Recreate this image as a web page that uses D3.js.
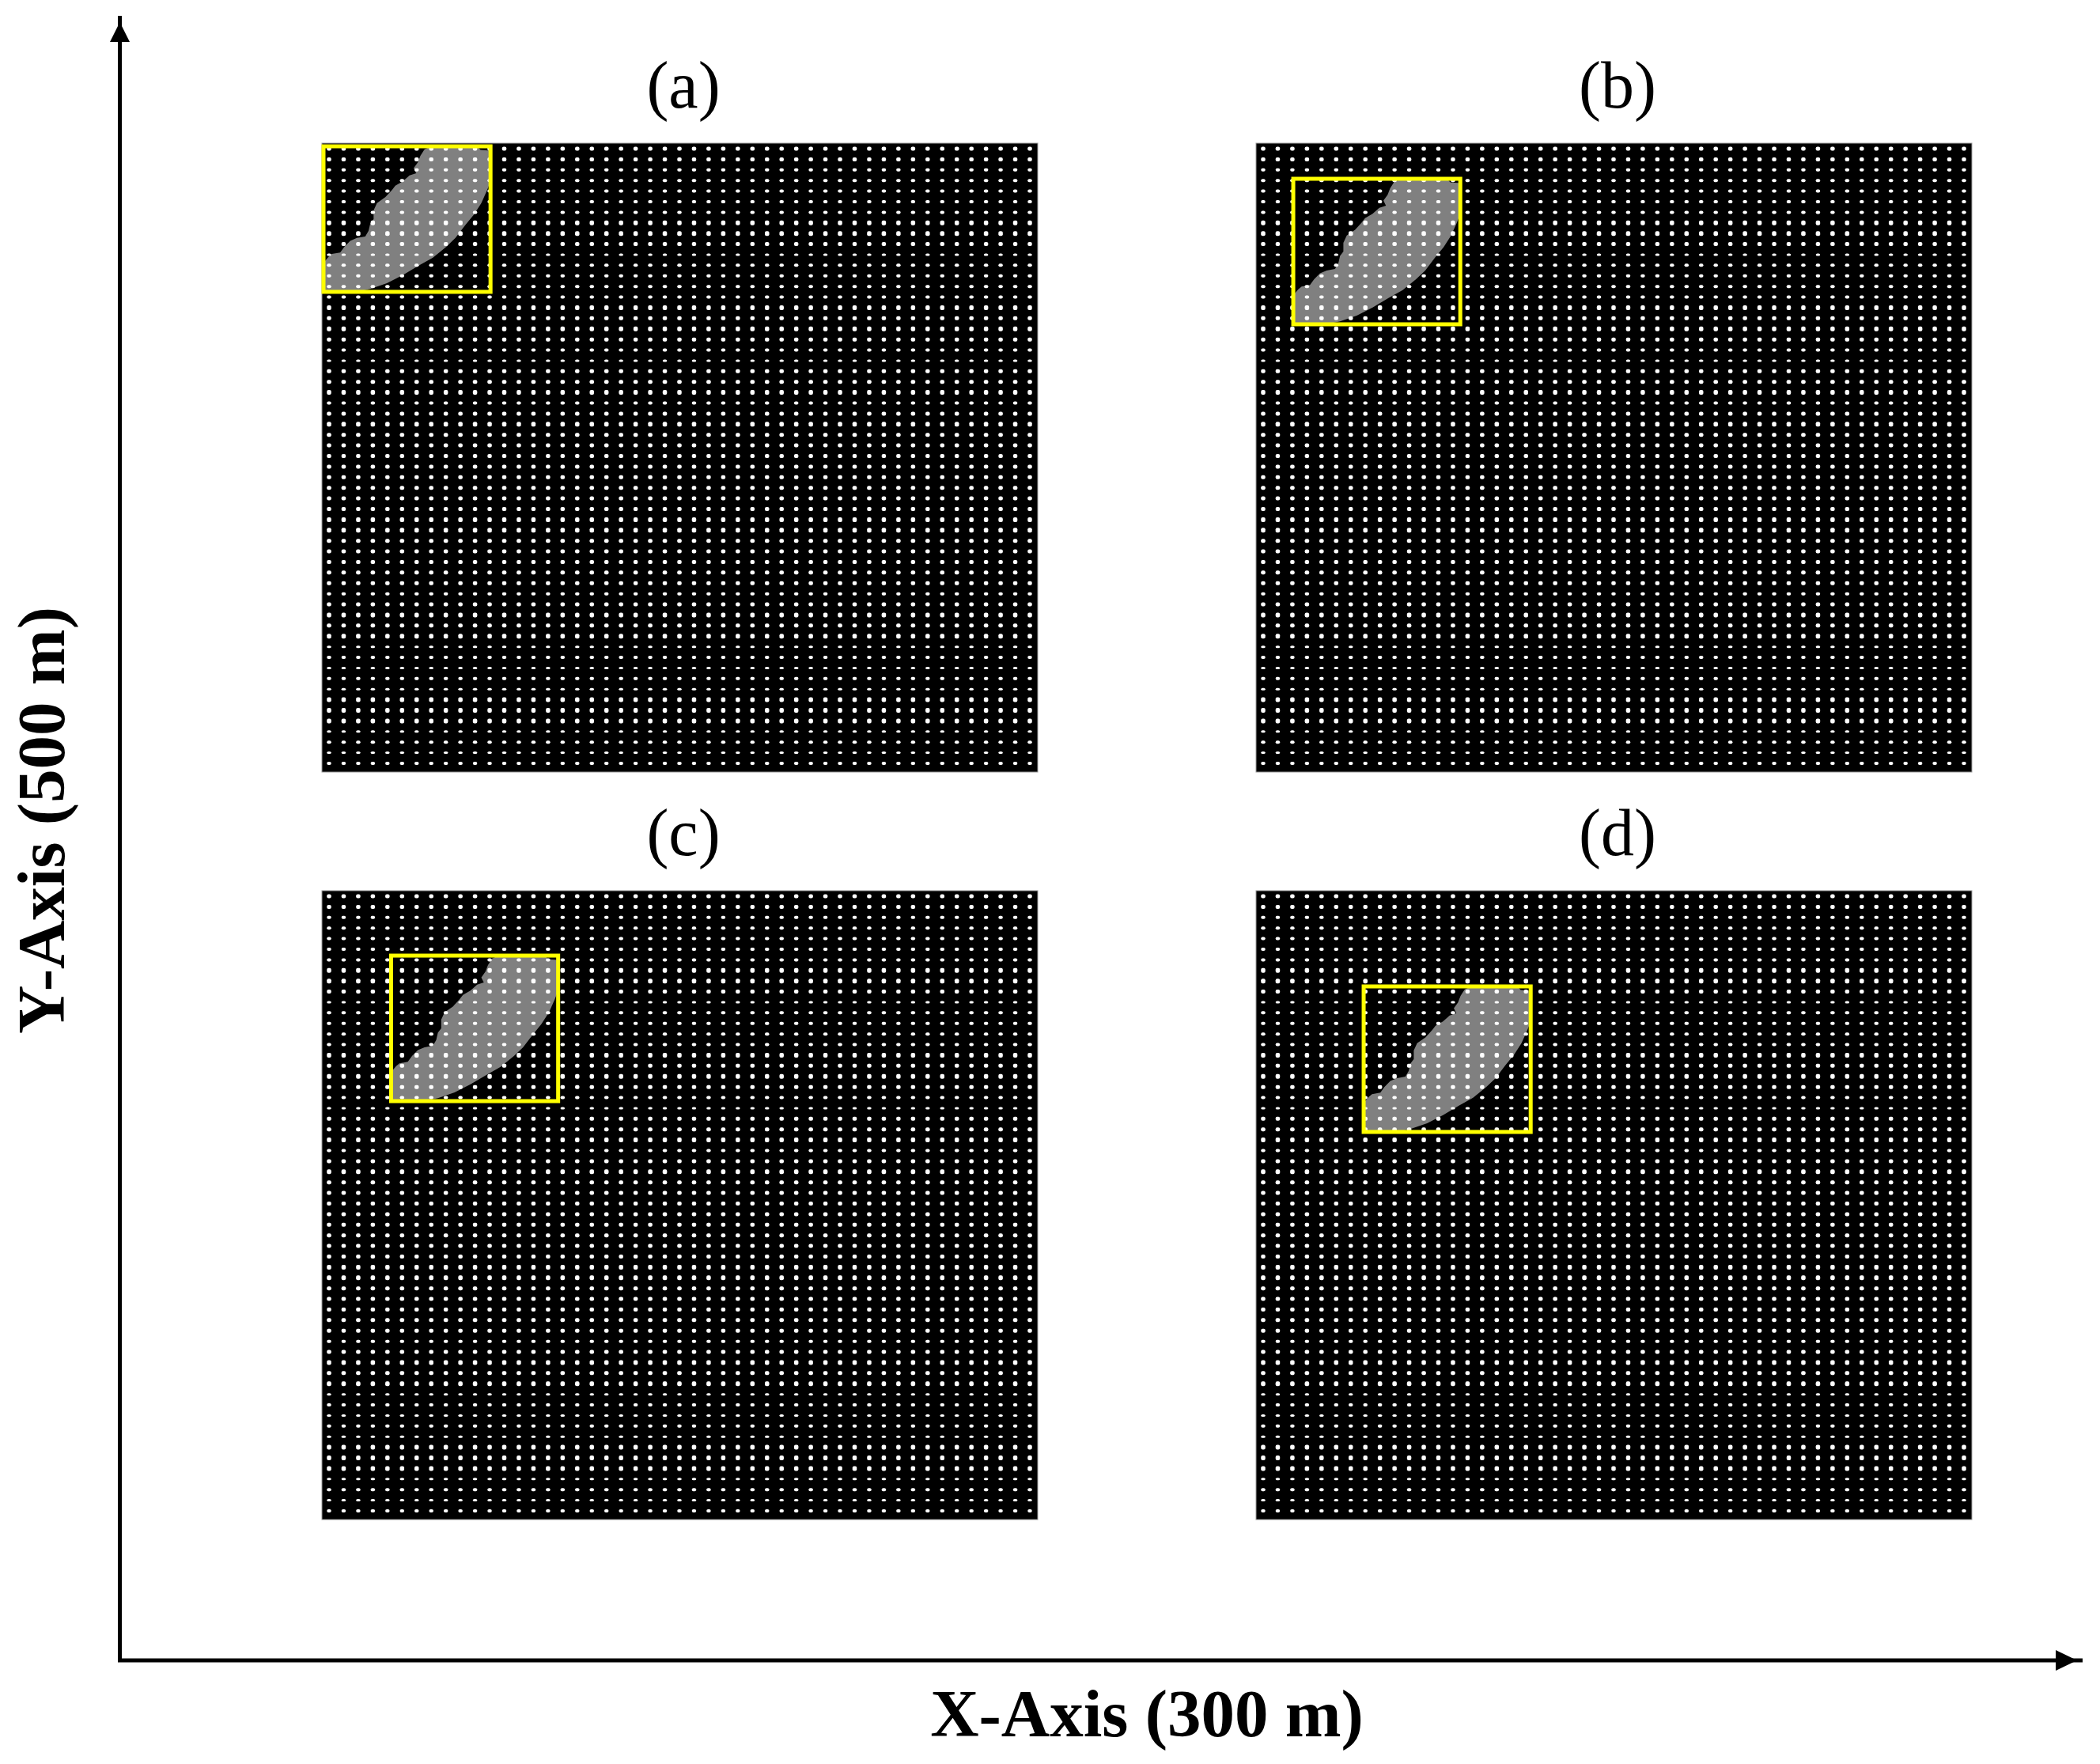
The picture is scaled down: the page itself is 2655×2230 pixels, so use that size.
<!DOCTYPE html>
<html>
<head>
<meta charset="utf-8">
<title>Detection regions</title>
<script src="https://cdn.jsdelivr.net/npm/d3@7"></script>
<style>
    body { margin: 0; background: #fff; }
    text { font-family: "Liberation Serif", serif; fill: #000; }
</style>
</head>
<body>
<div id="chart"></div>
<script>
// panels
const panelNames = ["(a)", "(b)", "(c)", "(d)"];
const panelCols = [0, 1, 0, 1];
const panelRows = [0, 0, 1, 1];

// yellow box corner in each panel, metres from the top left corner of the field
const boxLeft = [0.66, 15.6, 29.0, 45.1];
const boxTop = [2.5, 28.3, 51.6, 76.1];

// sensor grid
const gridColumns = d3.range(49);
const gridRows = d3.range(59);
// dot height of each grid row, the rows are squashed unevenly in the original
const rowDotHeights = [5, 5, 4, 4, 4, 4, 4, 6, 6, 5, 3, 4, 4, 4, 4, 6, 5, 6, 5, 4,
    3, 5, 5, 6, 4, 5, 6, 5, 5, 5,
    5, 5, 5, 5, 5, 6, 6, 5, 5, 5, 5, 5, 4, 5, 6, 5, 6, 3, 4, 3, 4, 3, 6, 6, 6, 3, 4, 3, 4];

// plume outline in percent of the yellow box
const plumeX = [0, 3, 5, 10, 12.5, 16, 20, 25, 27, 28, 30, 30, 32, 37, 41, 43, 47.5, 51.5, 55.5, 54, 56.5,
    58, 60.5, 64.5, 92, 94, 100, 100, 98, 94.5, 90, 85, 79, 73.5, 65.5, 57, 47.5, 38, 28, 20, 0];
const plumeY = [80, 76, 74, 73, 69, 65, 63, 62, 58, 53, 50, 44, 39, 35, 30, 27, 24, 20, 18.5, 15, 11,
    6.5, 2, 0, 0, 2.5, 3, 24, 30, 39, 47, 54, 63, 69, 76.5, 82, 88.5, 94, 98, 100, 100];

const fieldWidth = 300;   // metres
const fieldHeight = 500;
const boxWidth = 70;
const boxHeight = 115.7;

const width = 2655, height = 2230;
const panelWidth = 905, panelHeight = 795;
const panelX = [407, 1588], panelY = [181, 1126];

const svg = d3.select("#chart").append("svg")
    .attr("width", width)
    .attr("height", height)
    .style("display", "block");

const x = d3.scaleLinear().domain([0, fieldWidth]).range([0, panelWidth]);
const y = d3.scaleLinear().domain([0, fieldHeight]).range([0, panelHeight]);
const gridX = d3.scalePoint().domain(gridColumns).range([9, 895]);
const gridY = d3.scalePoint().domain(gridRows).range([7, 784]);

const plume = d3.range(plumeX.length);

const panels = svg.selectAll(".panel")
    .data(panelNames)
    .enter().append("g")
    .attr("class", "panel")
    .attr("transform", (d, i) => `translate(${panelX[panelCols[i]]},${panelY[panelRows[i]]})`);

panels.append("rect")
    .attr("width", panelWidth)
    .attr("height", panelHeight)
    .attr("fill", "#000")
    .attr("stroke", "#999")
    .attr("stroke-width", 1);

// plume goes under the dots
panels.append("path")
    .attr("fill", "#808080")
    .attr("d", (d, i) => {
        const px = d3.scaleLinear().domain([0, 100]).range([x(boxLeft[i]), x(boxLeft[i] + boxWidth)]);
        const py = d3.scaleLinear().domain([0, 100]).range([y(boxTop[i]), y(boxTop[i] + boxHeight)]);
        return d3.line().x(k => px(plumeX[k])).y(k => py(plumeY[k]))(plume) + "Z";
    });

panels.each(function() {
    const g = d3.select(this);
    gridRows.forEach(r => {
        g.selectAll(null)
            .data(gridColumns)
            .enter().append("rect")
            .attr("x", c => gridX(c) - 2.75)
            .attr("y", gridY(r) - rowDotHeights[r] / 2)
            .attr("width", 5.5)
            .attr("height", rowDotHeights[r])
            .attr("rx", 2)
            .attr("fill", "#fff");
    });
});

panels.append("rect")
    .attr("x", (d, i) => x(boxLeft[i]))
    .attr("y", (d, i) => y(boxTop[i]))
    .attr("width", x(boxWidth))
    .attr("height", y(boxHeight))
    .attr("fill", "none")
    .attr("stroke", "#ffff00")
    .attr("stroke-width", 5);

panels.append("text")
    .attr("x", 457)
    .attr("y", -45)
    .attr("text-anchor", "middle")
    .attr("font-size", 84)
    .text(d => d);

// axes with arrow heads
const axisX = 151.5, axisY = 2099;
svg.append("path")
    .attr("d", `M${axisX},20V${axisY}H2633`)
    .attr("fill", "none")
    .attr("stroke", "#000")
    .attr("stroke-width", 5);
svg.append("path")
    .attr("d", `M${axisX},28L${axisX + 12.5},53H${axisX - 12.5}Z`)
    .attr("fill", "#000");
svg.append("path")
    .attr("d", `M2599,${axisY - 13}L2626,${axisY}L2599,${axisY + 13}Z`)
    .attr("fill", "#000");

svg.append("text")
    .attr("x", 1450)
    .attr("y", 2195)
    .attr("text-anchor", "middle")
    .attr("font-size", 85)
    .attr("font-weight", "bold")
    .text("X-Axis (300 m)");

svg.append("text")
    .attr("transform", "translate(81,1037) rotate(-90)")
    .attr("text-anchor", "middle")
    .attr("font-size", 85)
    .attr("font-weight", "bold")
    .text("Y-Axis (500 m)");
</script>
</body>
</html>
